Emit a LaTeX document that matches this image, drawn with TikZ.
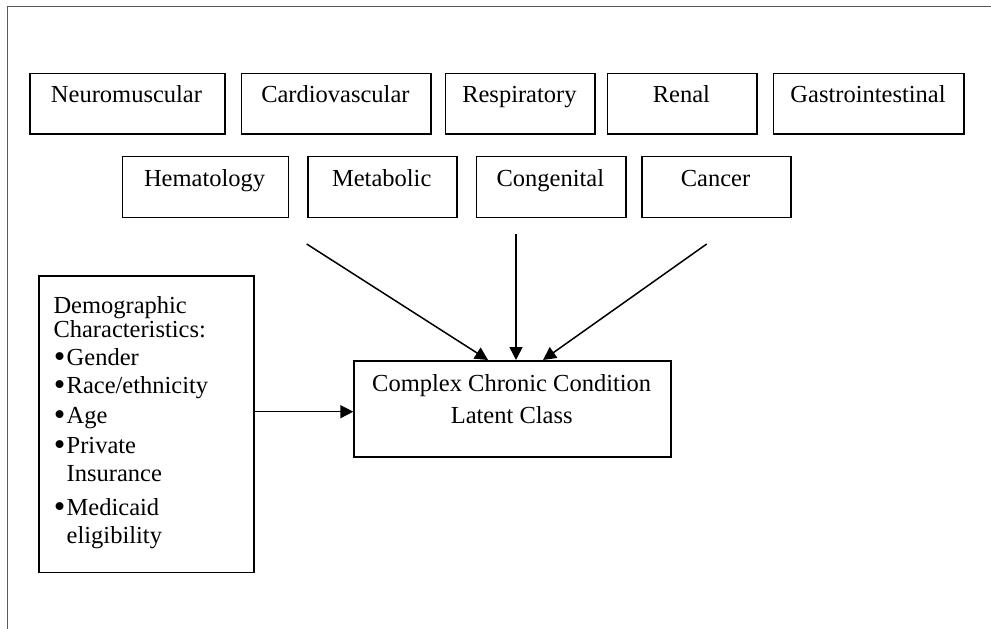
\documentclass[tikz,border=0pt]{standalone}
\usepackage{fontspec}
\setmainfont{Liberation Serif}
\usetikzlibrary{arrows.meta}
\newcommand{\bigbul}{\makebox[14pt][c]{\smash{\raisebox{-2.5pt}{\scalebox{1.35}{\textbullet}}}}}
\begin{document}
\begin{tikzpicture}[x=1pt,y=-1pt,
  box/.style={draw, line width=1.6pt, inner sep=0pt, anchor=north west},
  lbl/.style={font=\fontsize{24.5}{28}\selectfont, anchor=base, inner sep=0pt},
  lbw/.style={font=\fontsize{24.5}{28}\selectfont, anchor=base west, inner sep=0pt},
  arr/.style={line width=1.5pt, -{Triangle[length=13pt,width=13pt]}}]
\useasboundingbox (0,0) rectangle (991,629);
\draw[line width=1.6pt, black!65] (7.3,629) -- (7.3,6.5) -- (991,6.5);
% row 1
\node[box, minimum width=195pt, minimum height=60.3pt] (neu) at (29,72.7) {};
\node[box, minimum width=189.3pt, minimum height=60.3pt] (car) at (240.7,72.7) {};
\node[box, minimum width=149.3pt, minimum height=60.3pt] (res) at (444.7,72.7) {};
\node[box, minimum width=149.3pt, minimum height=60.3pt] (ren) at (606.7,72.7) {};
\node[box, minimum width=190.6pt, minimum height=60.3pt] (gas) at (772.7,72.7) {};
\node[lbl] (tneu) at (126.5,102.5) {Neuromuscular};
\node[lbl] (tcar) at (335.4,102.5) {Cardiovascular};
\node[lbl] (tres) at (519.4,102.5) {Respiratory};
\node[lbl] (tren) at (681.4,102.5) {Renal};
\node[lbl] (tgas) at (868,102.5) {Gastrointestinal};
% row 2
\node[box, minimum width=165.8pt, minimum height=61pt] (hem) at (121.7,155.7) {};
\node[box, minimum width=148.7pt, minimum height=61pt] (met) at (307.3,155.7) {};
\node[box, minimum width=149.3pt, minimum height=61pt] (con) at (475.7,155.7) {};
\node[box, minimum width=149pt, minimum height=61pt] (can) at (641,155.7) {};
\node[lbl] (them) at (204.6,186.7) {Hematology};
\node[lbl] (tmet) at (381.7,186.7) {Metabolic};
\node[lbl] (tcon) at (550.4,186.7) {Congenital};
\node[lbl] (tcan) at (715.5,186.7) {Cancer};
% central box
\node[box, minimum width=316.7pt, minimum height=96pt] (cc) at (353.3,360) {};
\node[lbl] (tcc1) at (511.7,391.7) {Complex Chronic Condition};
\node[lbl] (tcc2) at (511.7,423.3) {Latent Class};
% demographic box
\node[box, minimum width=215pt, minimum height=296.7pt] (dem) at (38.3,275) {};
\node[lbw] (d1) at (53.3,313) {Demographic};
\node[lbw] (d2) at (53.3,337) {Characteristics:};
\node[lbw] (d3) at (52.5,365) {\bigbul Gender};
\node[lbw] (d4) at (52.5,393) {\bigbul Race/ethnicity};
\node[lbw] (d5) at (52.5,423) {\bigbul Age};
\node[lbw] (d6) at (52.5,453) {\bigbul Private};
\node[lbw] (d7) at (66.5,481) {Insurance};
\node[lbw] (d8) at (52.5,515) {\bigbul Medicaid};
\node[lbw] (d9) at (66.5,543) {eligibility};
% arrows
\coordinate (s1) at (306.7,244);
\coordinate (e1) at (488,360);
\coordinate (s2) at (516,234);
\coordinate (e2) at (516,360);
\coordinate (s3) at (706.7,244);
\coordinate (e3) at (543,360);
\coordinate (s4) at (253.3,411.7);
\coordinate (e4) at (353.3,411.7);
\draw[arr] (s1) -- (e1);
\draw[arr] (s2) -- (e2);
\draw[arr] (s3) -- (e3);
\draw[arr] (s4) -- (e4);
\end{tikzpicture}
\end{document}
